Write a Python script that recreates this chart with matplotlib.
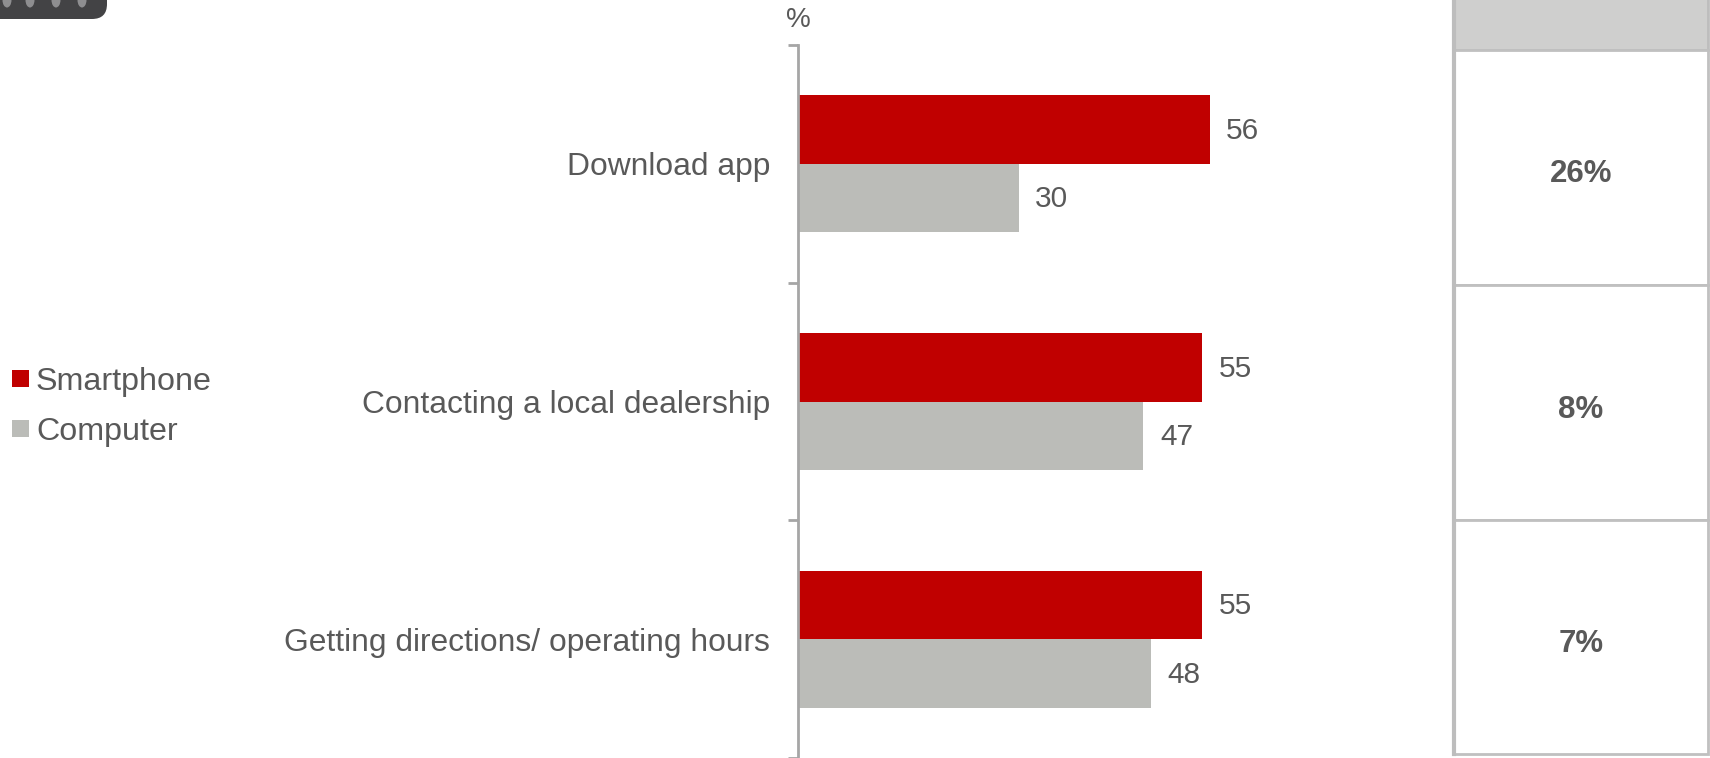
import matplotlib.pyplot as plt
from matplotlib.patches import Rectangle, FancyBboxPatch, Ellipse
from matplotlib.transforms import blended_transform_factory

plt.rcParams["font.family"] = ["Liberation Sans", "DejaVu Sans"]

# DATA
categories = ["Download app", "Contacting a local dealership",
              "Getting directions/ operating hours"]
smartphone = [56, 55, 55]
computer   = [30, 47, 48]
gap        = [26, 8, 7]          # smartphone lead, shown in the side table
series     = ["Smartphone", "Computer"]

# STYLE
RED   = "#c00000"
GREY  = "#bbbcb8"
TEXT  = "#595959"
AXIS  = "#a6a6a6"
W, H  = 1710, 758
DPI   = 100

fig = plt.figure(figsize=(W / DPI, H / DPI), dpi=DPI)

# background layer in pixel coordinates (decoration + table)
bg = fig.add_axes([0, 0, 1, 1])
bg.set_xlim(0, W)
bg.set_ylim(H, 0)
bg.axis("off")

# dark tab in the top-left corner with its dots
bg.add_patch(FancyBboxPatch((-40, -40), 147, 59,
                            boxstyle="round,pad=0,rounding_size=15",
                            facecolor="#434345", edgecolor="none"))
for cx in [7, 30, 56, 82]:
    bg.add_patch(Ellipse((cx, 0), 9, 15, facecolor="#8e8e90", edgecolor="none"))

# side table
tab_x0, tab_x1 = 1454, 1708
rows = [50, 285, 520, 754]
bg.add_patch(Rectangle((tab_x0, -5), tab_x1 - tab_x0, rows[0] + 5,
                       facecolor="#cfcfce", edgecolor="#bdbdbd", lw=2))
for i, g in enumerate(gap):
    top, bot = rows[i], rows[i + 1]
    bg.add_patch(Rectangle((tab_x0, top), tab_x1 - tab_x0, bot - top,
                           facecolor="white", edgecolor="#c0c0c0", lw=2))
    bg.text((tab_x0 + tab_x1) / 2, (top + bot) / 2 + 7, f"{g}%",
            ha="center", va="center", fontsize=22.5, fontweight="bold", color=TEXT)
bg.plot([tab_x0, tab_x0], [0, rows[-1]], color="#bdbdbd", lw=3)

# legend
for j, (name, col) in enumerate(zip(series, [RED, GREY])):
    yy = 378 + j * 50
    bg.add_patch(Rectangle((12, yy - 8.5), 17, 17, facecolor=col, edgecolor="none"))
    bg.text(36, yy + 4, name, ha="left", va="center", fontsize=23.2, color=TEXT)

# bar chart
ax_left, ax_top = 798, 45
xmax = 60
px_per_unit = 7.35
ax = fig.add_axes([ax_left / W, 0, xmax * px_per_unit / W, (H - ax_top) / H])
ax.patch.set_alpha(0)

bar_h = 0.288
pos = list(range(len(categories)))
ax.barh([p - bar_h / 2 for p in pos], smartphone, height=bar_h, color=RED)
ax.barh([p + bar_h / 2 for p in pos], computer, height=bar_h, color=GREY)

for p, s, c in zip(pos, smartphone, computer):
    ax.annotate(f"{s}", (s, p - bar_h / 2), xytext=(12, -1), textcoords="offset points",
                ha="left", va="center", fontsize=21.5, color=TEXT)
    ax.annotate(f"{c}", (c, p + bar_h / 2), xytext=(12, -1), textcoords="offset points",
                ha="left", va="center", fontsize=21.5, color=TEXT)

ax.set_xlim(0, xmax)
ax.set_ylim(len(categories) - 0.5, -0.5)

# boundary ticks as majors, category names on minor ticks
ax.set_yticks([p - 0.5 for p in range(len(categories) + 1)])
ax.set_yticklabels([])
ax.set_yticks(pos, minor=True)
ax.set_yticklabels(categories, minor=True, fontsize=22.9, color=TEXT)
ax.tick_params(axis="y", which="major", length=7, width=2, color=AXIS, direction="out")
ax.tick_params(axis="y", which="minor", length=0, pad=20)
ax.set_xticks([])

for side in ["top", "right", "bottom"]:
    ax.spines[side].set_visible(False)
ax.spines["left"].set_color(AXIS)
ax.spines["left"].set_linewidth(2)

trans = blended_transform_factory(ax.transData, fig.transFigure)
ax.text(0, 1 - 20 / H, "%", transform=trans, ha="center", va="center",
        fontsize=20, color=TEXT)

fig.savefig("out.png", dpi=DPI)
